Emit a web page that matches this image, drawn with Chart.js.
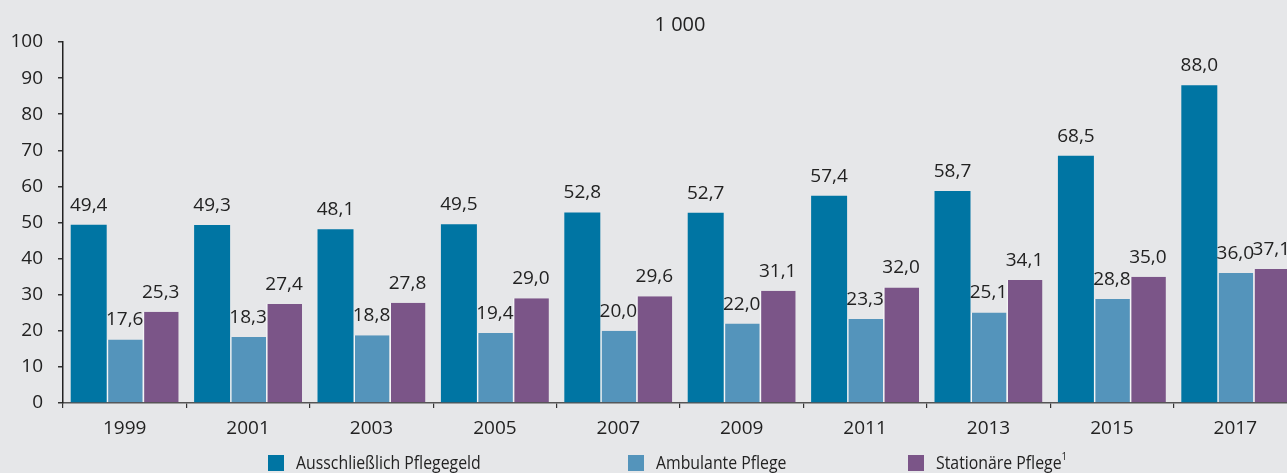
<!DOCTYPE html>
<html>
<head>
<meta charset="utf-8">
<script src="https://cdn.jsdelivr.net/npm/chart.js@4/dist/chart.umd.min.js"></script>
<style>
  body { margin: 0; background: #e6e7e9; overflow: hidden; width: 1287px; height: 473px; position: relative; }
  #chart { position: absolute; left: 0; top: 0; }
  .leg { position: absolute; top: 451px; font: 18px "Open Sans", sans-serif; color: #222; white-space: nowrap; line-height: 22px; }
  .leg i { display: inline-block; width: 16px; height: 16px; vertical-align: -2px; margin-right: 12px; }
  .leg span { display: inline-block; transform: scaleX(0.88); transform-origin: left center; }
  .leg sup { font-size: 11px; vertical-align: 9px; line-height: 0; }
</style>
</head>
<body>
<canvas id="chart" width="1320" height="473"></canvas>
<div class="leg" style="left:268px"><i style="background:#0075a3"></i><span>Ausschließlich Pflegegeld</span></div>
<div class="leg" style="left:628px"><i style="background:#5494bb"></i><span>Ambulante Pflege</span></div>
<div class="leg" style="left:908px"><i style="background:#7b5588"></i><span>Stationäre Pflege<sup>1</sup></span></div>
<script>
const years = ["1999", "2001", "2003", "2005", "2007", "2009", "2011", "2013", "2015", "2017"]
const pflegegeld = [49.4, 49.3, 48.1, 49.5, 52.8, 52.7, 57.4, 58.7, 68.5, 88.0]
const ambulant = [17.6, 18.3, 18.8, 19.4, 20.0, 22.0, 23.3, 25.1, 28.8, 36.0]
const stationaer = [25.3, 27.4, 27.8, 29.0, 29.6, 31.1, 32.0, 34.1, 35.0, 37.1]
const unitLabel = "1 000"

const font = "Open Sans, sans-serif"
const textColor = "#222"

// values above bars, german decimal comma
const valueLabels = {
  id: "valueLabels",
  afterDatasetsDraw(chart) {
    const ctx = chart.ctx
    ctx.save()
    ctx.font = "19px " + font
    ctx.fillStyle = textColor
    ctx.textAlign = "center"
    ctx.textBaseline = "alphabetic"
    chart.data.datasets.forEach((ds, i) => {
      chart.getDatasetMeta(i).data.forEach((bar, j) => {
        ctx.fillText(ds.data[j].toFixed(1).replace(".", ","), bar.x, bar.y - 14)
      })
    })
    ctx.restore()
  }
}

const unitTitle = {
  id: "unitTitle",
  afterDraw(chart) {
    const ctx = chart.ctx
    const a = chart.chartArea
    ctx.save()
    ctx.font = "20px " + font
    ctx.fillStyle = textColor
    ctx.textAlign = "center"
    ctx.textBaseline = "middle"
    ctx.fillText(unitLabel, (a.left + a.right) / 2, 25)
    ctx.restore()
  }
}

const sep = { left: 1.5, right: 0, top: 0, bottom: 0 }

let chart = new Chart(document.getElementById("chart"), {
  type: "bar",
  data: {
    labels: years,
    datasets: [
      { label: "Ausschließlich Pflegegeld", data: pflegegeld, backgroundColor: "#0075a3", borderWidth: 0 },
      { label: "Ambulante Pflege", data: ambulant, backgroundColor: "#5494bb", borderColor: "#f4f5f6", borderWidth: sep, borderSkipped: false },
      { label: "Stationäre Pflege", data: stationaer, backgroundColor: "#7b5588", borderColor: "#f4f5f6", borderWidth: sep, borderSkipped: false }
    ]
  },
  options: {
    responsive: false,
    animation: false,
    layout: { padding: { top: 42, right: 23, left: 0, bottom: 0 } },
    datasets: { bar: { categoryPercentage: 0.875, barPercentage: 1 } },
    plugins: { legend: { display: false }, tooltip: { enabled: false } },
    scales: {
      x: {
        grid: { offset: true, drawOnChartArea: false, tickLength: 5, color: "#333", lineWidth: 1.2 },
        border: { display: true, color: "#555", width: 1.5 },
        ticks: { color: textColor, font: { family: font, size: 19 }, padding: 9 },
        afterFit(scale) { scale.height = 70 }
      },
      y: {
        min: 0,
        max: 100,
        ticks: { stepSize: 10, color: textColor, font: { family: font, size: 19 }, padding: 15 },
        grid: { drawOnChartArea: false, tickLength: 5, color: "#333", lineWidth: 1.5 },
        border: { display: true, color: "#222", width: 1.5 },
        afterFit(scale) { scale.width = 63 }
      }
    }
  },
  plugins: [valueLabels, unitTitle]
})
</script>
</body>
</html>
